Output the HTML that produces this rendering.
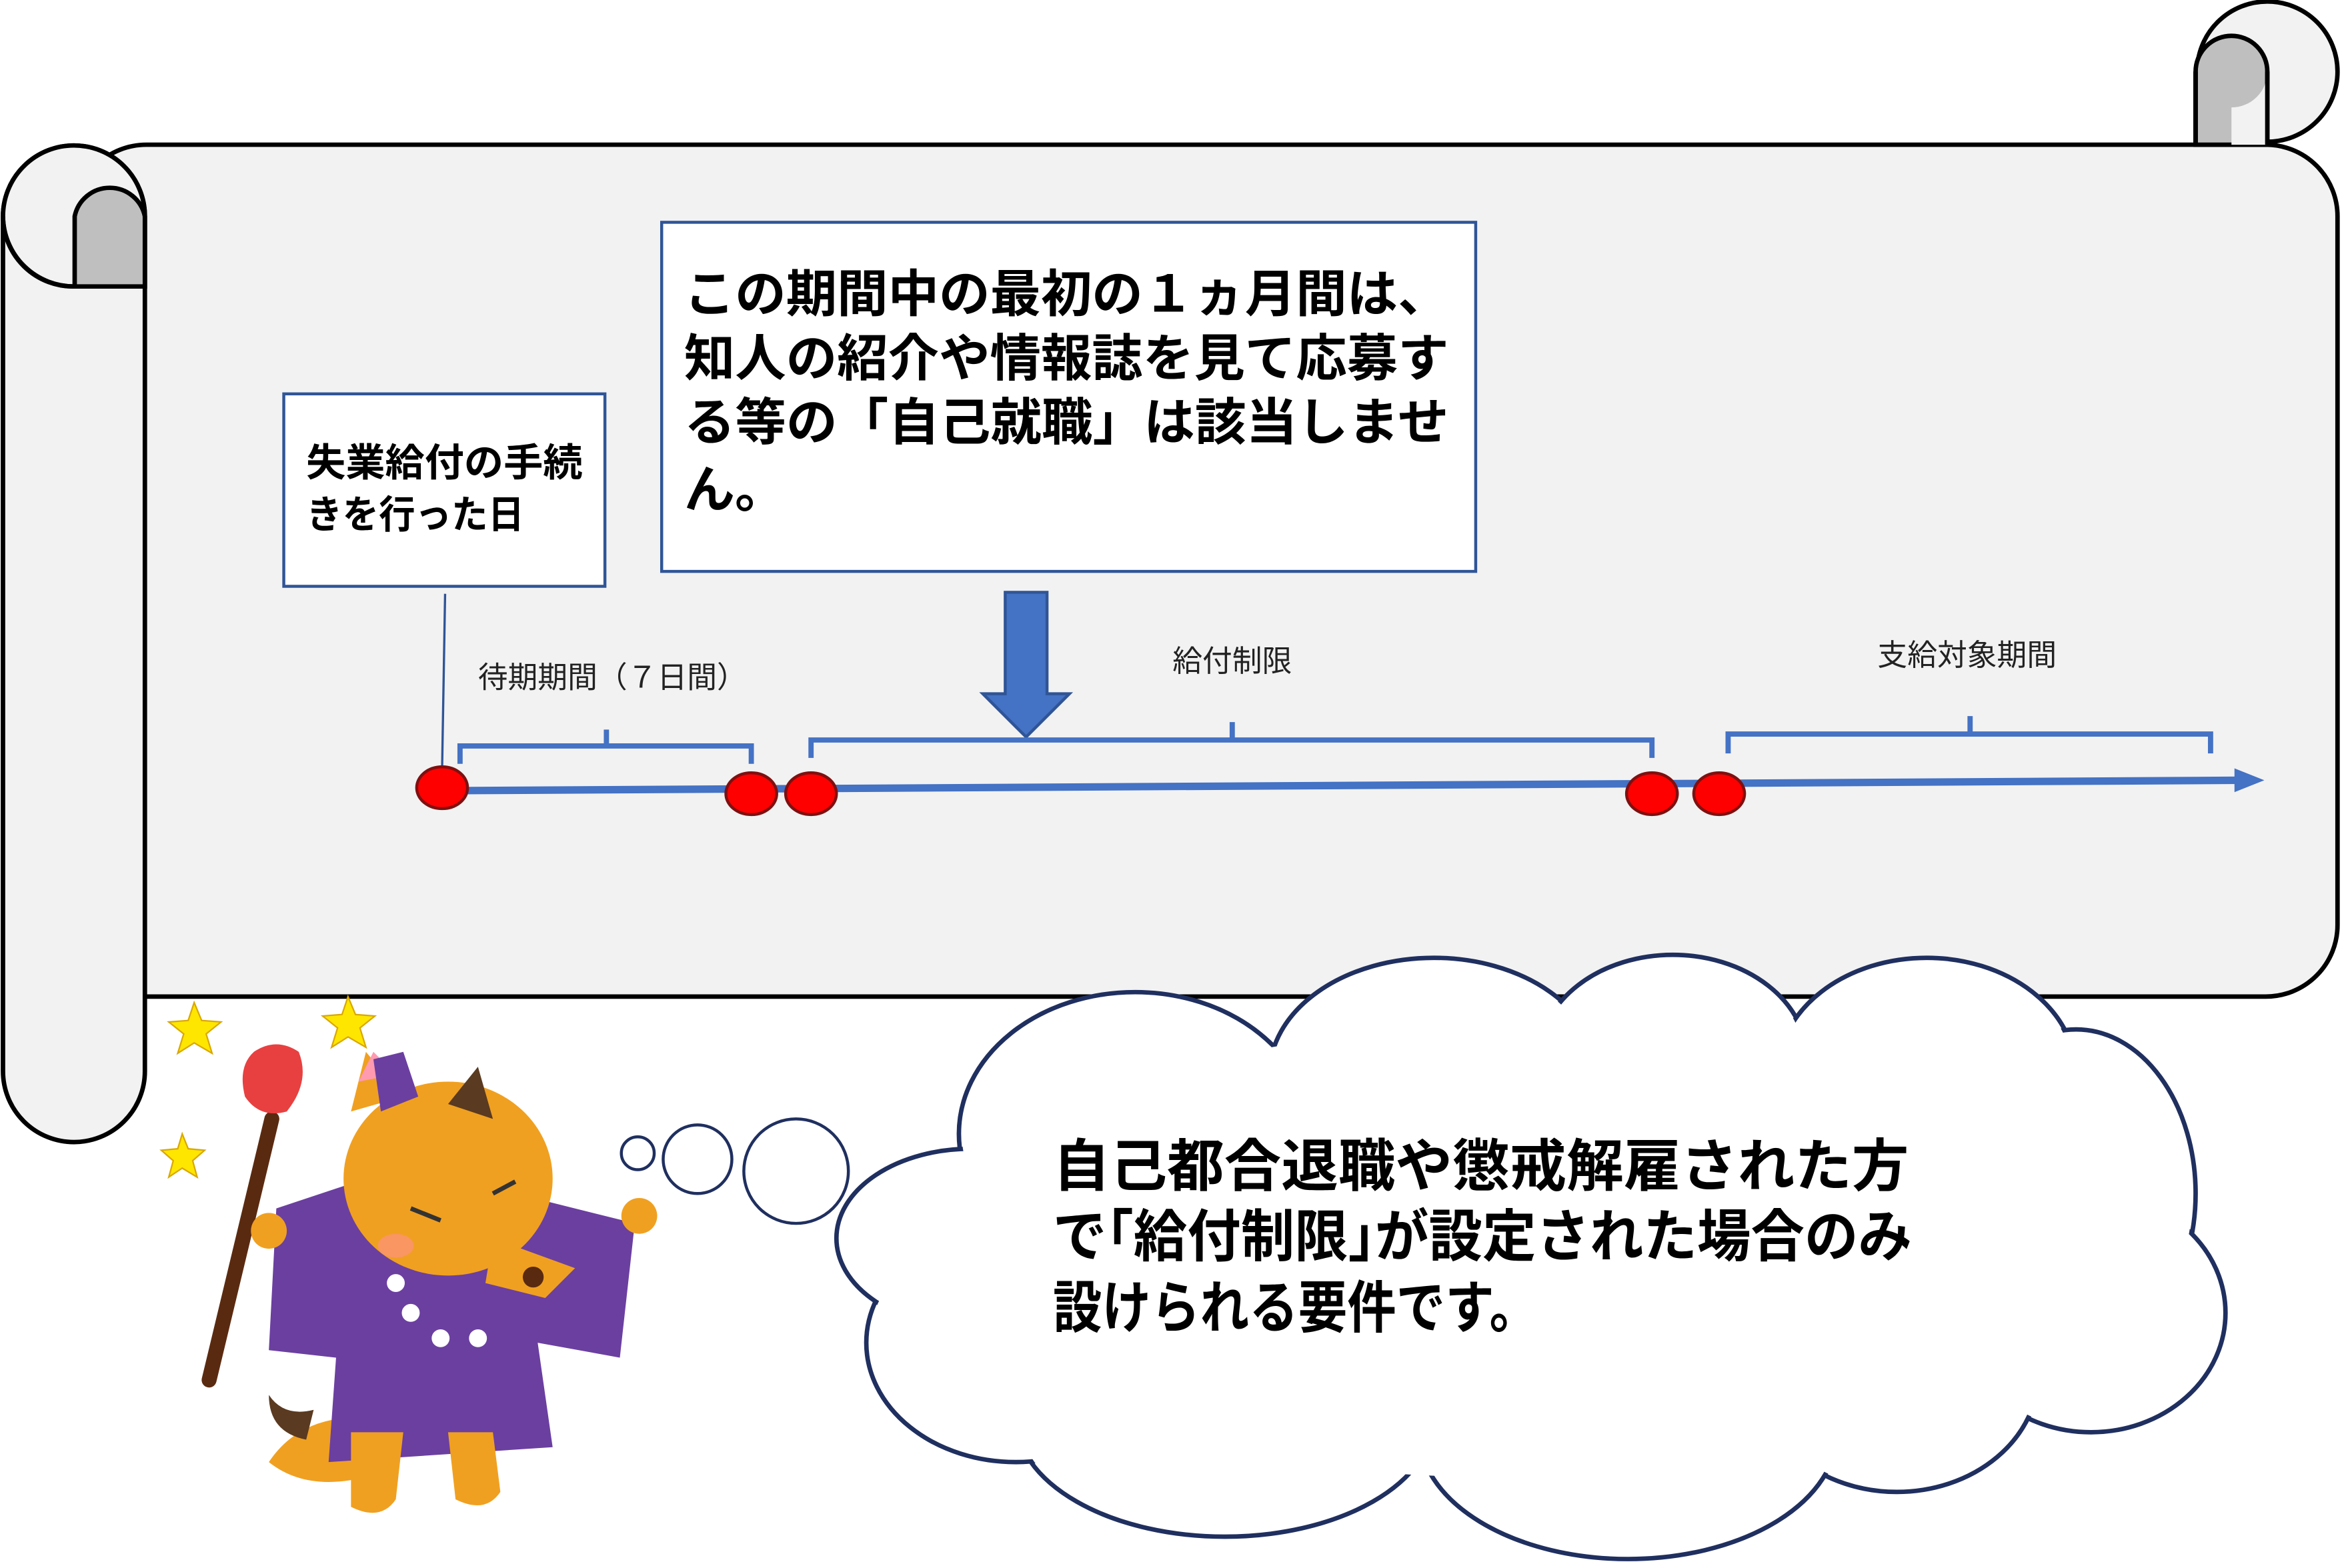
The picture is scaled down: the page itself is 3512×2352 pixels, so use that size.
<!DOCTYPE html>
<html><head><meta charset="utf-8"><style>
html,body{margin:0;padding:0;background:#fff;}
svg{display:block;}
text{font-family:"Liberation Sans","Noto Sans CJK JP",sans-serif;}
</style></head><body>
<svg width="3512" height="2352" viewBox="0 0 1568 1051" preserveAspectRatio="none" xmlns="http://www.w3.org/2000/svg">
<rect x="50" y="97" width="1515" height="571" rx="48" fill="#f2f2f2" stroke="#000" stroke-width="3"/>
<circle cx="1518" cy="48" r="47" fill="#f2f2f2" stroke="#000" stroke-width="3"/>
<path d="M1470,48 L1470,97 L1518,97" fill="#f2f2f2" stroke="#000" stroke-width="3"/>
<path d="M1470,48 A24,24 0 0 1 1518,48 L1518,97 L1470,97 Z" fill="#bfbfbf" stroke="#000" stroke-width="3"/>
<path d="M1494,72 A24,24 0 0 0 1518,48 L1518,97 L1494,97 Z" fill="#f2f2f2"/>
<line x1="1518" y1="48" x2="1518" y2="97" stroke="#000" stroke-width="3"/>
<line x1="1470" y1="48" x2="1470" y2="97" stroke="#000" stroke-width="3"/>
<path d="M97,145 L97,718 A47.5,47.5 0 0 1 2,718 L2,145 A47.5,47.5 0 0 1 97,145 Z" fill="#f2f2f2" stroke="#000" stroke-width="3"/>
<path d="M97,145 A47.5,47.5 0 0 0 2,145 A47.5,47.5 0 0 0 50,192 L97,192 Z" fill="#f2f2f2" stroke="#000" stroke-width="3"/>
<path d="M50,192 L50,145 A24,24 0 0 1 97,145 L97,192 Z" fill="#bfbfbf" stroke="#000" stroke-width="3"/>
<path d="M50,192 A47,47 0 0 1 2,145" fill="none" stroke="#000" stroke-width="3"/>
<rect x="190" y="264" width="215" height="129" fill="#fff" stroke="#2f5597" stroke-width="2"/>
<text x="205" y="319" font-size="26" font-weight="bold" textLength="185" lengthAdjust="spacingAndGlyphs">失業給付の手続</text>
<text x="205" y="354" font-size="26" font-weight="bold" textLength="146" lengthAdjust="spacingAndGlyphs">きを行った日</text>
<rect x="443" y="149" width="545" height="234" fill="#fff" stroke="#2f5597" stroke-width="2"/>
<g font-size="34" font-weight="bold">
<text x="458" y="209" textLength="512" lengthAdjust="spacingAndGlyphs">この期間中の最初の１ヵ月間は、</text>
<text x="458" y="252" textLength="512" lengthAdjust="spacingAndGlyphs">知人の紹介や情報誌を見て応募す</text>
<text x="458" y="295" textLength="512" lengthAdjust="spacingAndGlyphs">る等の「自己就職」は該当しませ</text>
<text x="458" y="340" textLength="68" lengthAdjust="spacingAndGlyphs">ん。</text>
</g>
<path d="M673,397 L701,397 L701,465 L716,465 L687,494 L658,465 L673,465 Z" fill="#4472c4" stroke="#2f5597" stroke-width="2"/>
<line x1="298" y1="398" x2="296" y2="515" stroke="#2f5597" stroke-width="1.5"/>
<g font-size="20" fill="#222">
<text x="320" y="461">待期期間（７日間）</text>
<text x="785" y="450">給付制限</text>
<text x="1257" y="446">支給対象期間</text>
</g>
<g fill="none" stroke="#4472c4" stroke-width="3.5">
<path d="M308,512 L308,500 L406,500 L406,489 M406,500 L503,500 L503,512"/>
<path d="M543,508 L543,496 L825,496 L825,484 M825,496 L1106,496 L1106,508"/>
<path d="M1157,505 L1157,492 L1319,492 L1319,480 M1319,492 L1480,492 L1480,505"/>
</g>
<line x1="296" y1="530" x2="1500" y2="523" stroke="#4472c4" stroke-width="5"/>
<path d="M1496,515 L1516,523 L1496,531 Z" fill="#4472c4"/>
<g fill="#ff0000" stroke="#7f1010" stroke-width="2">
<ellipse cx="296" cy="528" rx="17" ry="14"/>
<ellipse cx="503" cy="532" rx="17" ry="14"/>
<ellipse cx="543" cy="532" rx="17" ry="14"/>
<ellipse cx="1106" cy="532" rx="17" ry="14"/>
<ellipse cx="1151" cy="532" rx="17" ry="14"/>
</g>
<g stroke="#1f2f5f" fill="#fff" stroke-width="2">
<circle cx="427" cy="773" r="11"/>
<circle cx="467" cy="777" r="23"/>
<circle cx="533" cy="785" r="35"/>
</g>
<g stroke="#1f2f5f" stroke-width="3" fill="#fff">
<ellipse cx="760" cy="760" rx="118" ry="95"/>
<ellipse cx="960" cy="720" rx="110" ry="78"/>
<ellipse cx="1120" cy="710" rx="90" ry="70"/>
<ellipse cx="1290" cy="720" rx="100" ry="78"/>
<ellipse cx="1390" cy="800" rx="80" ry="110"/>
<ellipse cx="1400" cy="880" rx="90" ry="80"/>
<ellipse cx="1270" cy="920" rx="95" ry="80"/>
<ellipse cx="1090" cy="960" rx="140" ry="85"/>
<ellipse cx="820" cy="950" rx="140" ry="80"/>
<ellipse cx="680" cy="900" rx="100" ry="80"/>
<ellipse cx="650" cy="830" rx="90" ry="60"/>
</g>
<g fill="#fff">
<ellipse cx="760" cy="760" rx="116" ry="93"/>
<ellipse cx="960" cy="720" rx="108" ry="76"/>
<ellipse cx="1120" cy="710" rx="88" ry="68"/>
<ellipse cx="1290" cy="720" rx="98" ry="76"/>
<ellipse cx="1390" cy="800" rx="78" ry="108"/>
<ellipse cx="1400" cy="880" rx="88" ry="78"/>
<ellipse cx="1270" cy="920" rx="93" ry="78"/>
<ellipse cx="1090" cy="960" rx="138" ry="83"/>
<ellipse cx="820" cy="950" rx="138" ry="78"/>
<ellipse cx="680" cy="900" rx="98" ry="78"/>
<ellipse cx="650" cy="830" rx="88" ry="58"/>
<ellipse cx="1000" cy="840" rx="380" ry="150"/>
</g>
<g font-size="38" font-weight="bold">
<text x="705" y="795" textLength="573" lengthAdjust="spacingAndGlyphs">自己都合退職や懲戒解雇された方</text>
<text x="705" y="842" textLength="575" lengthAdjust="spacingAndGlyphs">で｢給付制限｣が設定された場合のみ</text>
<text x="705" y="890" textLength="325" lengthAdjust="spacingAndGlyphs">設けられる要件です。</text>
</g>
<g>
<path d="M130,672 l5,12 13,1 -10,8 4,13 -12,-7 -11,7 4,-13 -10,-8 13,-1z" fill="#ffe600" stroke="#d9a800"/>
<path d="M233,668 l5,12 13,1 -10,8 4,13 -12,-7 -11,7 4,-13 -10,-8 13,-1z" fill="#ffe600" stroke="#d9a800"/>
<path d="M122,760 l4,10 11,1 -8,7 3,11 -10,-6 -9,6 3,-11 -8,-7 11,-1z" fill="#ffe600" stroke="#d9a800"/>
<line x1="182" y1="750" x2="140" y2="925" stroke="#5a2a10" stroke-width="10" stroke-linecap="round"/>
<path d="M170,705 q15,-10 30,0 q8,20 -8,40 q-18,5 -28,-10 q-5,-20 6,-30z" fill="#e84040"/>
<path d="M180,980 q20,-30 60,-30 l5,40 q-40,10 -65,-10z" fill="#f0a020"/>
<path d="M180,935 q10,15 30,10 l-5,20 q-25,-5 -25,-30z" fill="#5a3a20"/>
<path d="M185,810 l60,-20 l100,10 l80,20 l-10,90 l-55,-10 l10,70 l-150,10 l5,-70 l-45,-5z" fill="#6b3fa0"/>
<path d="M235,960 l0,50 q20,10 30,-5 l5,-45z M300,960 l5,45 q20,10 30,-5 l-5,-40z" fill="#f0a020"/>
<ellipse cx="300" cy="790" rx="70" ry="65" fill="#f0a020"/>
<path d="M235,745 l10,-40 l25,30z" fill="#f0a020"/>
<path d="M300,740 l20,-25 l10,35z" fill="#5a3a20"/>
<path d="M240,725 l10,-20 l15,15z" fill="#ff9ab0"/>
<path d="M250,710 l20,-5 l10,30 l-25,10z" fill="#6b3fa0"/>
<path d="M330,830 l55,20 l-20,20 l-40,-10z" fill="#f0a020"/>
<circle cx="357" cy="856" r="7" fill="#5a2a10"/>
<path d="M275,810 l20,8 M330,800 l15,-8" stroke="#333" stroke-width="3"/>
<ellipse cx="265" cy="835" rx="12" ry="8" fill="#ff9090" opacity="0.6"/>
<g fill="#fff"><circle cx="265" cy="860" r="6"/><circle cx="275" cy="880" r="6"/><circle cx="295" cy="897" r="6"/><circle cx="320" cy="897" r="6"/></g>
<circle cx="180" cy="825" r="12" fill="#f0a020"/>
<circle cx="428" cy="815" r="12" fill="#f0a020"/>
</g>
</svg>
</body></html>
